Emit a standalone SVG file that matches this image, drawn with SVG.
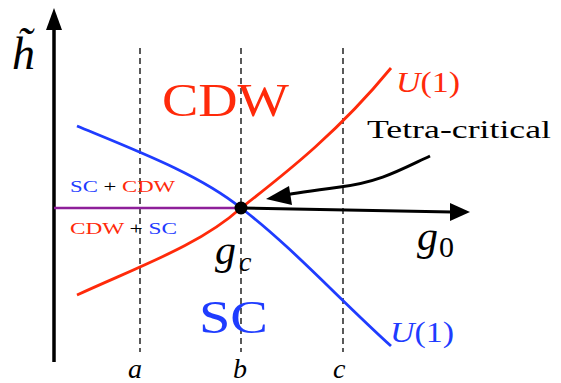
<svg xmlns="http://www.w3.org/2000/svg" width="561" height="383" viewBox="0 0 561 383">
<style>
.serif{font-family:"Liberation Serif","DejaVu Serif",serif}
.it{font-style:italic}
.dash{stroke:#000;stroke-width:1.3;stroke-dasharray:6,4;fill:none}
.red{fill:#ff2a0a}
.blue{fill:#1f3cff}
</style>
<rect width="561" height="383" fill="#fff"/>
<g id="connectors">
<line x1="54" y1="362" x2="54" y2="26" stroke="#000" stroke-width="3.5"/>
<path d="M46,30 L54,8 L62,30 z" fill="#000"/>
<line class="dash" x1="140" y1="48" x2="140" y2="352"/>
<line class="dash" x1="241" y1="48" x2="241" y2="352"/>
<line class="dash" x1="343" y1="48" x2="343" y2="352"/>
<line x1="54" y1="208" x2="241" y2="208" stroke="#8e1f9a" stroke-width="2.5"/>
<path d="M77,295 C140,266 200,245 241,208 C290,170 340,130 391,68" stroke="#ff2a0a" stroke-width="2.8" fill="none"/>
<path d="M77,126 C140,152 200,175 241,208 C290,245 340,300 391,346" stroke="#1f3cff" stroke-width="2.8" fill="none"/>
<line x1="241" y1="208" x2="452" y2="212" stroke="#000" stroke-width="3"/>
<path d="M450,203 L470,212 L450,221 z" fill="#000"/>
<path d="M430,156 C400,170 380,182 340,187 C310,191 295,193 285,195" stroke="#000" stroke-width="3" fill="none"/>
<path d="M289,186 L266,199 L292,205 z" fill="#000"/>
<circle cx="241" cy="208" r="6.5" fill="#000"/>
</g>
<g id="axis-h"><text class="serif it" x="12" y="69" font-size="46">h&#771;</text></g>
<g id="cdw"><text class="serif red" x="162" y="116" font-size="46" textLength="127" lengthAdjust="spacingAndGlyphs">CDW</text></g>
<g id="sc"><text class="serif blue" x="199" y="333" font-size="46" textLength="69" lengthAdjust="spacingAndGlyphs">SC</text></g>
<g id="u1-red"><text class="serif red" x="396" y="92" font-size="29" textLength="64" lengthAdjust="spacingAndGlyphs"><tspan class="it">U</tspan>(1)</text></g>
<g id="u1-blue"><text class="serif blue" x="390" y="342" font-size="29" textLength="64" lengthAdjust="spacingAndGlyphs"><tspan class="it">U</tspan>(1)</text></g>
<g id="tetra"><text class="serif" x="367" y="138" font-size="25" textLength="184" lengthAdjust="spacingAndGlyphs">Tetra-critical</text></g>
<g id="g0"><text class="serif it" x="417" y="250" font-size="42">g</text><text class="serif" x="439" y="257" font-size="30">0</text></g>
<g id="gc"><text class="serif it" x="215" y="264" font-size="42">g</text><text class="serif it" x="239" y="271" font-size="28">c</text></g>
<g id="mix1"><text class="serif" x="70" y="192" font-size="16" textLength="105" lengthAdjust="spacingAndGlyphs"><tspan class="blue">SC</tspan> + <tspan class="red">CDW</tspan></text></g>
<g id="mix2"><text class="serif" x="70" y="234" font-size="16" textLength="107" lengthAdjust="spacingAndGlyphs"><tspan class="red">CDW</tspan> + <tspan class="blue">SC</tspan></text></g>
<g id="ticks">
<text class="serif it" x="128" y="378" font-size="28">a</text>
<text class="serif it" x="233" y="378" font-size="28">b</text>
<text class="serif it" x="333" y="378" font-size="28">c</text>
</g>
</svg>
